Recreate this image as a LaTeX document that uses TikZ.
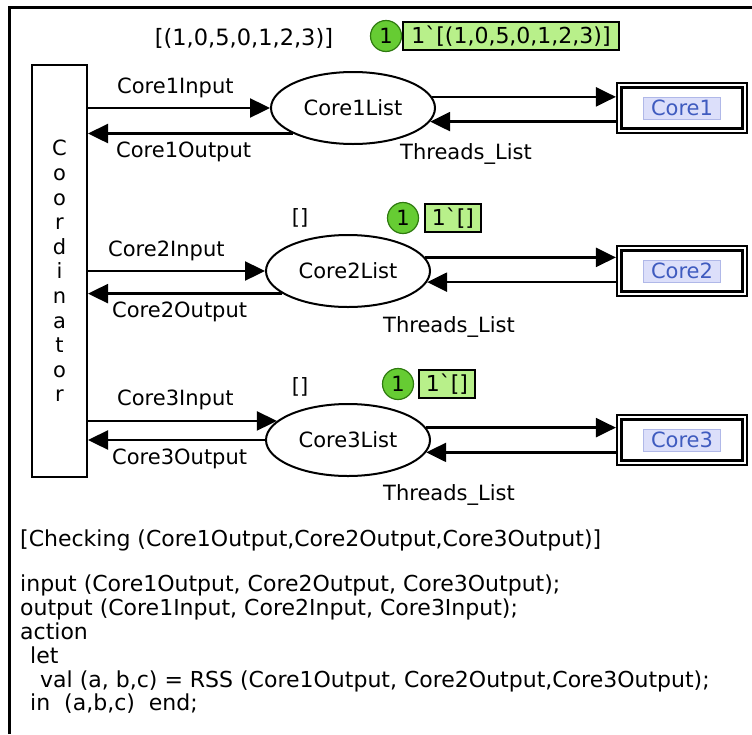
\documentclass[tikz,border=0pt]{standalone}
\usepackage{fontspec}
\setmainfont{DejaVu Sans}
\newfontfamily\rawfont[Ligatures=TeXOff]{DejaVu Sans}
\usetikzlibrary{shapes.geometric,arrows.meta}
\definecolor{tokfill}{HTML}{66CC33}
\definecolor{tokdraw}{HTML}{2F7A10}
\definecolor{boxfill}{HTML}{B8F08A}
\definecolor{lblue}{HTML}{3F5BBF}
\definecolor{lfill}{HTML}{DCDFFA}
\definecolor{ldraw}{HTML}{B0B8E8}
\tikzset{
  txt/.style={font=\fontsize{21}{24}\selectfont, inner sep=0pt},
  placebox/.style={ellipse, draw, line width=2pt, minimum width=164pt, minimum height=72pt, inner sep=0pt, font=\fontsize{21}{24}\selectfont},
  transbox/.style={draw, line width=2pt, minimum width=55pt, minimum height=412pt, inner sep=0pt, align=center, font=\fontsize{21}{24.6}\selectfont},
  subbox/.style={draw, line width=2.2pt, minimum width=130pt, minimum height=50pt, inner sep=0pt},
  corelbl/.style={fill=lfill, draw=ldraw, line width=0.6pt, text=lblue, minimum width=77pt, minimum height=22pt, inner sep=0pt, font=\fontsize{21}{24}\selectfont},
  tok/.style={circle, fill=tokfill, draw=tokdraw, line width=1.2pt, minimum size=31pt, inner sep=0pt, font=\fontsize{21}{24}\selectfont},
  tokbox/.style={fill=boxfill, draw=black, line width=1.8pt, minimum height=28pt, inner sep=0pt, font=\rawfont\fontsize{22}{24}\selectfont},
  arc/.style={line width=2.4pt, -{Triangle[length=20pt,width=19pt]}},
  code/.style={font=\fontsize{22}{23.8}\selectfont, inner sep=0pt, align=left}
}
\begin{document}
\begin{tikzpicture}[x=1pt,y=-1pt]
\useasboundingbox (0,0) rectangle (752,734);
\draw[line width=3pt] (9,734) -- (9,7) -- (752,7);

% coordinator transition
\node[transbox] (coord) at (59.5,271) {C\\o\\o\\r\\d\\i\\n\\a\\t\\o\\r};

% places
\node[placebox] (e1) at (353,108) {Core1List};
\node[placebox] (e2) at (348,271) {Core2List};
\node[placebox] (e3) at (348,440) {Core3List};

% substitution transitions
\node[subbox] (c1) at (682,108) {};
\node[subbox] (c2) at (682,271) {};
\node[subbox] (c3) at (682,440) {};
\foreach \c in {c1,c2,c3}{
  \draw[line width=3pt] ([xshift=6pt,yshift=-6pt]\c.north west) rectangle ([xshift=-6pt,yshift=6pt]\c.south east);
}
\node[corelbl] (c1l) at (c1) {Core1};
\node[corelbl] (c2l) at (c2) {Core2};
\node[corelbl] (c3l) at (c3) {Core3};

% arcs row 1
\draw[arc] (coord.east |- e1.west) -- (e1.west);
\draw[arc] (e1.203) -- (coord.east |- e1.203);
\draw[arc] (e1.8) -- (c1.west |- e1.8);
\draw[arc] (c1.west |- e1.-10) -- (e1.-10);
% arcs row 2
\draw[arc] (coord.east |- e2.west) -- (e2.west);
\draw[arc] (e2.199) -- (coord.east |- e2.199);
\draw[arc] (e2.10) -- (c2.west |- e2.10);
\draw[arc] (c2.west |- e2.-8) -- (e2.-8);
% arcs row 3
\draw[arc] (coord.east |- e3.165) -- (e3.165);
\draw[arc] (e3.west) -- (coord.east |- e3.west);
\draw[arc] (e3.9) -- (c3.west |- e3.9);
\draw[arc] (c3.west |- e3.-9) -- (e3.-9);

% arc labels
\node[txt, anchor=west] (l1i) at (117,88) {Core1Input};
\node[txt, anchor=west] (l1o) at (116,152) {Core1Output};
\node[txt, anchor=west] (l2i) at (108,251) {Core2Input};
\node[txt, anchor=west] (l2o) at (112,312) {Core2Output};
\node[txt, anchor=west] (l3i) at (117,400) {Core3Input};
\node[txt, anchor=west] (l3o) at (112,459) {Core3Output};
\node[txt, anchor=west] (th1) at (400,154) {Threads\_List};
\node[txt, anchor=west] (th2) at (383,327) {Threads\_List};
\node[txt, anchor=west] (th3) at (383,495) {Threads\_List};

% initial markings and tokens
\node[txt, font=\fontsize{22.5}{24}\selectfont] (im1) at (244,38) {[(1,0,5,0,1,2,3)]};
\node[txt] (im2) at (300,218) {[]};
\node[txt] (im3) at (300,387) {[]};
\node[tok] (t1) at (386,36) {1};
\node[tok] (t2) at (403,218) {1};
\node[tok] (t3) at (398,384) {1};
\node[tokbox, minimum width=216pt] (b1) at (511,36) {1`[(1,0,5,0,1,2,3)]};
\node[tokbox, minimum width=56pt] (b2) at (453,218) {1`[]};
\node[tokbox, minimum width=56pt] (b3) at (447,384) {1`[]};

% guard and code
\node[code, anchor=west] (guard) at (20,540) {[Checking (Core1Output,Core2Output,Core3Output)]};
\node[code, anchor=north west] (action) at (20,575) {input (Core1Output, Core2Output, Core3Output);\\
output (Core1Input, Core2Input, Core3Input);\\
action\\
\hspace*{10pt}let\\
\hspace*{20pt}val (a, b,c) = RSS (Core1Output, Core2Output,Core3Output);\\
\hspace*{10pt}in\ \ (a,b,c)\ \ end;};
\end{tikzpicture}
\end{document}
